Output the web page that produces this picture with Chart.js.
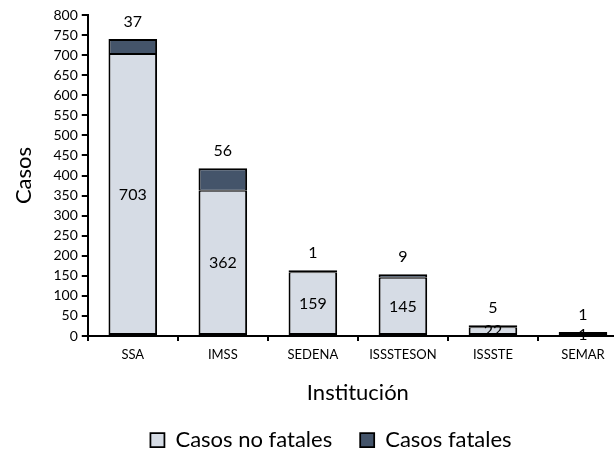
<!DOCTYPE html>
<html>
<head>
<meta charset="utf-8">
<script src="https://cdn.jsdelivr.net/npm/chart.js@4/dist/chart.umd.min.js"></script>
<style>
  html, body { margin: 0; padding: 0; background: #fff; overflow: hidden; }
  #wrap { width: 660px; height: 453px; }
</style>
</head>
<body>
<div id="wrap"><canvas id="casos_chart"></canvas></div>
<script>
var instituciones = ["SSA", "IMSS", "SEDENA", "ISSSTESON", "ISSSTE", "SEMAR"];
var casos_no_fatales = [703, 362, 159, 145, 22, 1];
var casos_fatales = [37, 56, 1, 9, 5, 1];
var y_max = 800;
var y_step = 50;

var fontName = "Lato, 'Open Sans', sans-serif";

// etiquetas de valores sobre las barras
var etiquetas = {
  id: "etiquetas",
  afterDatasetsDraw: function(chart) {
    var ctx = chart.ctx;
    ctx.save();
    ctx.font = "16px " + fontName;
    ctx.fillStyle = "#000";
    ctx.textAlign = "center";
    ctx.textBaseline = "middle";
    chart.getDatasetMeta(0).data.forEach(function(bar, i) {
      ctx.fillText(casos_no_fatales[i], bar.x, (bar.y + bar.base) / 2);
    });
    chart.getDatasetMeta(1).data.forEach(function(bar, i) {
      ctx.fillText(casos_fatales[i], bar.x, bar.y - 17);
    });
    ctx.restore();
  }
};

new Chart("casos_chart", {
  type: "bar",
  data: {
    labels: instituciones,
    datasets: [{
      label: "Casos no fatales",
      data: casos_no_fatales,
      backgroundColor: "#d6dce5",
      borderColor: "#000",
      borderWidth: { top: 1, left: 2, right: 2, bottom: 2 },
      borderSkipped: false,
      minBarLength: 2,
      barPercentage: 0.54,
      categoryPercentage: 1
    }, {
      label: "Casos fatales",
      data: casos_fatales,
      backgroundColor: "#44546a",
      borderColor: "#000",
      borderWidth: { top: 2, left: 2, right: 2, bottom: 1 },
      borderSkipped: false,
      minBarLength: 2,
      barPercentage: 0.54,
      categoryPercentage: 1
    }]
  },
  options: {
    responsive: true,
    maintainAspectRatio: false,
    animation: false,
    layout: { padding: { left: 34, right: 32, top: 15, bottom: -8 } },
    plugins: {
      legend: {
        position: "bottom",
        labels: {
          boxWidth: 14,
          boxHeight: 14,
          padding: 28,
          color: "#000",
          font: { family: fontName, size: 22 }
        }
      },
      tooltip: { enabled: false }
    },
    scales: {
      x: {
        stacked: true,
        grid: { display: true, drawOnChartArea: false, drawTicks: true, tickLength: 5, offset: true, color: "#000", lineWidth: 2 },
        border: { color: "#000", width: 2 },
        ticks: { color: "#000", font: { family: fontName, size: 13 }, padding: 6, maxRotation: 0 },
        title: { display: true, text: "Institución", color: "#000", font: { family: fontName, size: 22 }, padding: { top: 11, bottom: -5 } }
      },
      y: {
        stacked: true,
        min: 0,
        max: y_max,
        grid: { display: true, drawOnChartArea: false, drawTicks: true, tickLength: 6, color: "#000", lineWidth: 2 },
        border: { color: "#000", width: 2 },
        ticks: { stepSize: y_step, autoSkip: false, color: "#000", font: { family: fontName, size: 14 }, padding: 4 },
        title: { display: true, text: "Casos", color: "#000", font: { family: fontName, size: 22 }, padding: { top: -23, bottom: 12 } }
      }
    }
  },
  plugins: [etiquetas]
});
</script>
</body>
</html>
